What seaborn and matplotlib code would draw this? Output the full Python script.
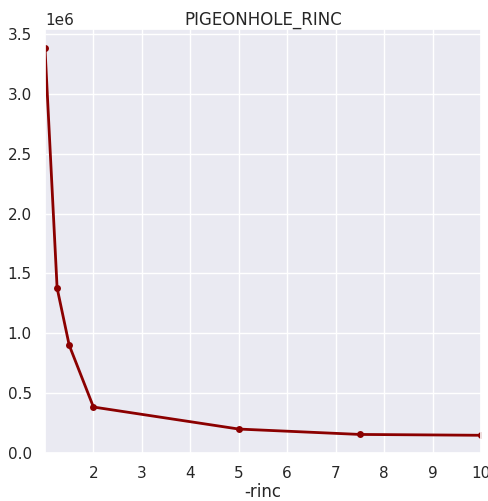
import matplotlib
matplotlib.use("Agg")
import matplotlib.pyplot as plt
import seaborn as sns
import pandas as pd

rinc = [1.0, 1.25, 1.5, 2.0, 5.0, 7.5, 10.0]
count = [3.38e6, 1.378e6, 0.90e6, 0.384e6, 0.20e6, 0.155e6, 0.148e6]
xticks = [2, 3, 4, 5, 6, 7, 8, 9, 10]

sns.set_theme(style="darkgrid")
df = pd.DataFrame({"-rinc": rinc, "value": count})

fig = plt.figure(figsize=(4.89, 5.01), dpi=100)
ax = fig.add_axes([45 / 489, 1 - 453 / 501, (481 - 45) / 489, (453 - 29) / 501])
sns.lineplot(data=df, x="-rinc", y="value", color="darkred", marker="o",
             markersize=5, markeredgewidth=0, linewidth=2, ax=ax)
ax.set_xlim(1, 10)
ax.set_xticks(xticks)
ax.set_ylim(bottom=0)
ax.set_ylabel("")
ax.set_xlabel("-rinc", labelpad=1)
ax.set_title("PIGEONHOLE_RINC", pad=3)
fig.savefig("out.png", dpi=100)
